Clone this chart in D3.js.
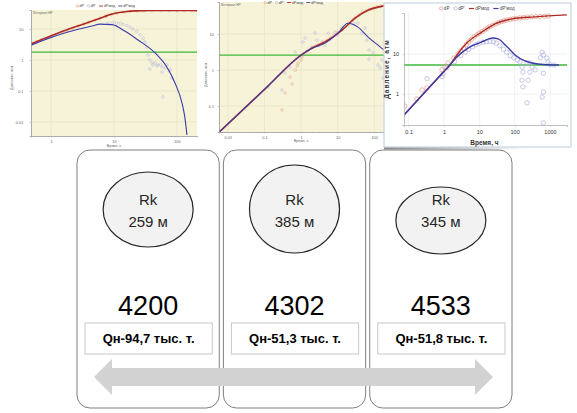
<!DOCTYPE html>
<html>
<head>
<meta charset="utf-8">
<script src="https://cdn.jsdelivr.net/npm/d3@7"></script>
<style>
body { margin: 0; background: #fff; }
svg { display: block; font-family: "Liberation Sans", Arial, sans-serif; }
</style>
</head>
<body>
<svg id="chart" width="577" height="413"></svg>
<script>
// ---- данные: три скважины ----
const wells = ['4200', '4302', '4533'];
const rkRadius = [259, 385, 345];          // Rk, м
const oilProd = ['94,7', '51,3', '51,8'];  // Qн, тыс. т.

const legendLabels = ['dP', "dP'", 'dPмод', "dP'мод"];

// ---- КВД скв. 4200 (время, ч ; давление, атм) ----
const c1RedModel = [[0.48,3.3],[0.8,5.0],[1.3,7.4],[2.5,12],[4.5,18],[7,25],[10.4,32],[15,36],[21.5,38.3],[40,39.3],[100,39.6],[208,39.6]];
const c1BlueModel = [[0.48,3.0],[1.3,6.4],[2.5,9.5],[4.5,12.5],[6,14.3],[9.3,13.8],[15,8.4],[24,4.4],[45,1.68],[69,0.59],[93,0.18],[120,0.041],[133,0.0145],[144,0.0038]];
const c1dP = [[0.5,3.4],[0.6,3.9],[0.7,4.4],[0.85,5.0],[1,5.7],[1.2,6.6],[1.5,7.9],[1.8,9.0],[2.2,10.5],[2.7,12.5],[3.3,14.5],[4,16.5],[5,19.5],[6,22],[7.5,25.5],[9,29],[11,32],[14,35],[18,37.5],[23,38.5],[30,39],[40,39.4],[55,39.6],[75,39.6],[100,39.6],[130,39.6],[170,39.6],[200,39.6]];
const c1dPd = [[1,5.5],[8,15.5],[9.5,16],[11,15.6],[12.5,15],[14,14],[16,13],[18,11.5],[20,10],[23,8.5],[26,6.5],[29,5],[31,3.8],[33,2.6],[34.7,1.45],[37,1.0],[37,0.51],[40,0.8],[41.6,0.69],[45,0.8],[48,0.65],[50,0.69],[55,0.7],[58,0.59],[58,0.41],[60,0.064],[65,0.55],[69,0.69],[75,0.45],[78,0.48],[83,0.26]];
const c1Level = 1.8;

// ---- КВД скв. 4302 ----
const c2RedModel = [[0.0058,0.019],[0.01,0.032],[0.1,0.29],[1,2.6],[2,4.1],[4.5,6.0],[13.2,12.9],[30,27.8],[67,46],[174,60],[270,64]];
const c2BlueModel = [[0.0058,0.019],[0.01,0.032],[0.1,0.29],[1,2.6],[2,4.0],[4.5,5.6],[10.2,10.6],[19,20],[36,15.6],[67,8.3],[127,4.9],[174,3.8],[270,2.8]];
const c2dP = [[0.30,0.078],[0.365,0.23],[0.5,0.64],[0.57,0.41],[0.69,1.0],[0.78,1.29],[0.83,1.56],[1.0,1.9],[1.06,2.3],[1.5,3.3],[2,4.1],[2.5,4.7],[3,5.1],[4,5.7],[5,6.5],[6.5,8],[8,9.5],[10,11],[13,13],[16,16],[20,20],[25,24],[30,28],[38,34],[48,40],[60,44],[75,48],[95,53],[120,57],[150,59],[190,61],[240,63]];
const c2dPd = [[0.125,0.34],[0.30,0.28],[0.365,0.83],[0.5,1.2],[0.69,3.2],[1.13,6.0],[1.29,7.7],[1.99,4.4],[2.4,10.7],[2.7,6.8],[3,4.8],[3.75,6.0],[4.5,5.0],[5.5,10.6],[6,7],[8.5,11.3],[10,9.5],[13.2,14.7],[20,18],[28,19],[36,20],[46,10.6],[56,14.7],[63,6.8],[72,3.6],[72,2.0],[93,3.0],[127,1.38],[145,1.14],[163,1.9],[174,0.6]];
const c2Level = 2.6;

// ---- КВД скв. 4533 ----
const c3RedModel = [[0.074,0.30],[0.3,1.15],[1,3.65],[1.48,5.3],[2.33,9.4],[4.8,20],[11.9,35.5],[28,56],[84,75],[380,84],[3000,94]];
const c3BlueModel = [[0.074,0.30],[0.3,1.15],[1,3.65],[1.48,5.3],[2.33,8.4],[4.8,14],[11.9,20],[24,25],[34,23.7],[61,15],[103,9.4],[196,6.7],[460,5.6],[1400,5.3],[1800,5.3]];
const c3dP = [[0.078,0.50],[0.17,0.75],[0.24,1.26],[0.33,1.41],[0.88,4.0],[1.07,4.7],[1.3,6.0],[1.9,7.9],[2.5,10],[3,12],[3.6,14],[4.3,17],[5,20],[6,23],[7.2,27],[8.6,30],[10,33],[12,36],[14.5,40],[17,44],[20,48],[24,52],[29,56],[35,60],[42,64],[50,67],[60,70],[75,73],[90,75],[110,77],[140,79],[180,81],[230,83],[300,84],[400,85],[520,86],[700,87],[900,88]];
const c3dPd = [[0.33,2.4],[0.88,2.7],[0.94,3.2],[1.2,4.5],[2,6.5],[3,9],[4,11],[5,13],[6.5,15],[8,17],[10,18.5],[13,19.5],[16,20],[20,20.5],[25,20],[30,18.5],[38,16],[48,13],[60,11],[75,9],[95,8],[120,7],[142,6.3],[162,4.7],[172,3.5],[162,2.2],[172,1.5],[224,0.6],[240,2.2],[270,3.5],[310,4.7],[380,4.0],[224,6.0],[270,6.0],[530,8.0],[600,11],[650,9.4],[820,7.9],[880,6.3],[650,3.3],[650,1.12],[600,0.84],[650,0.19],[1000,5.4],[1300,5.3]];
const c3Level = 5.3;

const svg = d3.select('#chart');
svg.append('rect').attr('width', 577).attr('height', 413).attr('fill', '#fff');

// общий рисовальщик лог-лог графика
function drawLogChart(c) {
  const x = d3.scaleLog().domain(c.xDom).range([c.left, c.right]);
  const y = d3.scaleLog().domain(c.yDom).range([c.bottom, c.top]);
  const g = svg.append('g');

  svg.append('clipPath').attr('id', 'clip' + c.id).append('rect')
    .attr('x', c.left).attr('y', c.top)
    .attr('width', c.right - c.left).attr('height', c.bottom - c.top);

  g.append('rect')
    .attr('x', c.left).attr('y', c.top)
    .attr('width', c.right - c.left).attr('height', c.bottom - c.top)
    .attr('fill', c.bg);

  g.append('g').selectAll('line').data(c.xTicks).join('line')
    .attr('x1', d => x(d)).attr('x2', d => x(d))
    .attr('y1', c.top).attr('y2', c.bottom)
    .attr('stroke', c.grid).attr('stroke-width', 0.6);
  g.append('g').selectAll('line').data(c.yTicks).join('line')
    .attr('y1', d => y(d)).attr('y2', d => y(d))
    .attr('x1', c.left).attr('x2', c.right)
    .attr('stroke', c.grid).attr('stroke-width', 0.6);

  const plot = g.append('g').attr('clip-path', `url(#clip${c.id})`);

  plot.append('line')
    .attr('x1', c.left).attr('x2', c.right)
    .attr('y1', y(c.level)).attr('y2', y(c.level))
    .attr('stroke', '#3fb83a').attr('stroke-width', c.lw * 1.1);

  plot.append('g').selectAll('circle').data(c.dPd).join('circle')
    .attr('cx', d => x(d[0])).attr('cy', d => y(d[1])).attr('r', c.pr)
    .attr('fill', 'none').attr('stroke', '#aeb0dc').attr('stroke-width', c.pw);
  plot.append('g').selectAll('circle').data(c.dP).join('circle')
    .attr('cx', d => x(d[0])).attr('cy', d => y(d[1])).attr('r', c.pr)
    .attr('fill', 'none').attr('stroke', '#e39a88').attr('stroke-width', c.pw);

  const line = d3.line().x(d => x(d[0])).y(d => y(d[1])).curve(d3.curveMonotoneX);
  plot.append('path').datum(c.redModel).attr('d', line)
    .attr('fill', 'none').attr('stroke', '#b02a24').attr('stroke-width', c.rlw);
  plot.append('path').datum(c.blueModel).attr('d', line)
    .attr('fill', 'none').attr('stroke', '#3a3aa8').attr('stroke-width', c.lw);

  // оси
  const fmt = d3.format('~g');
  const xa = g.append('g').attr('transform', `translate(0,${c.bottom})`)
    .call(d3.axisBottom(x).tickValues(c.xTicks).tickFormat(fmt).tickSize(c.ts).tickPadding(c.tp));
  const ya = g.append('g').attr('transform', `translate(${c.left},0)`)
    .call(d3.axisLeft(y).tickValues(c.yTicks).tickFormat(fmt).tickSize(c.ts).tickPadding(c.tpy));
  if (c.minor) {
    g.append('g').attr('transform', `translate(0,${c.bottom})`)
      .call(d3.axisBottom(x).tickValues(x.ticks().filter(d => !c.xTicks.includes(d))).tickFormat('').tickSize(c.ts * 0.7))
      .call(a => a.select('.domain').remove())
      .selectAll('line').attr('stroke', c.axis).attr('stroke-width', 0.4);
  }
  [xa, ya].forEach(a => {
    a.attr('font-family', null).attr('font-size', c.fs);
    a.select('.domain').attr('stroke', c.axis).attr('stroke-width', 0.8);
    a.selectAll('.tick line').attr('stroke', c.axis).attr('stroke-width', 0.5);
    a.selectAll('text').attr('fill', c.tickColor);
  });

  // подписи осей
  g.append('text').attr('x', x(c.xTitleAt)).attr('y', c.bottom + c.xTitleDy)
    .attr('text-anchor', 'middle').attr('font-size', c.tfs).attr('font-weight', c.tw)
    .attr('fill', c.tickColor).text('Время, ч');
  g.append('text')
    .attr('transform', `translate(${c.yTitleX},${(c.top + c.bottom) / 2 + c.yTitleDy}) rotate(-90)`)
    .attr('text-anchor', 'middle').attr('font-size', c.tfs).attr('font-weight', c.tw)
    .attr('letter-spacing', c.tls).attr('fill', c.tickColor).text('Давление, атм');

  if (c.interval) {
    g.append('text').attr('x', c.left + 2).attr('y', c.top + 4)
      .attr('font-size', 3.2).attr('fill', '#666').text('Интервал НР');
  }

  legend(c.legendX, c.legendY, c.lfs);
}

function legend(cx, cy, fs) {
  const g = svg.append('g').attr('font-size', fs).attr('fill', '#444');
  const colors = ['#e39a88', '#aeb0dc', '#b02a24', '#3a3aa8'];
  let pos = 0;
  legendLabels.forEach((lab, i) => {
    if (i < 2) {
      g.append('circle').attr('cx', pos + fs * 0.4).attr('cy', cy)
        .attr('r', fs * 0.35).attr('fill', 'none')
        .attr('stroke', colors[i]).attr('stroke-width', fs * 0.16);
      pos += fs * 1.0;
    } else {
      g.append('line').attr('x1', pos).attr('x2', pos + fs * 1.1)
        .attr('y1', cy).attr('y2', cy)
        .attr('stroke', colors[i]).attr('stroke-width', fs * 0.25);
      pos += fs * 1.4;
    }
    const t = g.append('text').attr('x', pos).attr('y', cy + fs * 0.35).text(lab);
    pos += t.node().getComputedTextLength() + fs * 0.9;
  });
  g.attr('transform', `translate(${cx - pos / 2},0)`);
}

// график 1
drawLogChart({
  id: 1, left: 31, right: 197, top: 10, bottom: 136,
  xDom: [0.48, 208], yDom: [0.0035, 41],
  xTicks: [1, 10, 100], yTicks: [0.01, 0.1, 1, 10],
  bg: '#f6f3d8', grid: '#e4dfc2', axis: '#9a9a9a', tickColor: '#666',
  redModel: c1RedModel, blueModel: c1BlueModel, dP: c1dP, dPd: c1dPd, level: c1Level,
  lw: 1.1, rlw: 1.6, pr: 1.3, pw: 0.5, ts: 1.5, tp: 2.5, tpy: 6, fs: 4, minor: true,
  xTitleAt: 10, xTitleDy: 11, yTitleX: 13, yTitleDy: 5, tfs: 3.5, tw: 'normal', tls: 0,
  interval: true, legendX: 107, legendY: 6, lfs: 3.6
});

// график 2
drawLogChart({
  id: 2, left: 219, right: 390, top: 2, bottom: 132,
  xDom: [0.0057, 270], yDom: [0.019, 77.6],
  xTicks: [0.01, 0.1, 1, 10, 100], yTicks: [0.1, 1, 10],
  bg: '#f6f3d8', grid: '#e4dfc2', axis: '#9a9a9a', tickColor: '#666',
  redModel: c2RedModel, blueModel: c2BlueModel, dP: c2dP, dPd: c2dPd, level: c2Level,
  lw: 1.1, rlw: 1.6, pr: 1.3, pw: 0.5, ts: 1.5, tp: 2.5, tpy: 3.5, fs: 4, minor: true,
  xTitleAt: 1, xTitleDy: 10, yTitleX: 207, yTitleDy: 8, tfs: 3.5, tw: 'normal', tls: 0,
  interval: true, legendX: 295, legendY: 2.5, lfs: 3.6
});

// рамка графика 3
svg.append('rect').attr('x', 384).attr('y', 3).attr('width', 187).attr('height', 144)
  .attr('fill', '#fff').attr('stroke', '#c6d4e2').attr('stroke-width', 1.2);
const shade = svg.append('defs').append('linearGradient').attr('id', 'shade');
shade.append('stop').attr('offset', 0).attr('stop-color', '#8a8a8a');
shade.append('stop').attr('offset', 1).attr('stop-color', '#8a8a8a').attr('stop-opacity', 0);
svg.append('rect').attr('x', 384).attr('y', 147.5).attr('width', 140).attr('height', 2)
  .attr('fill', 'url(#shade)');

// график 3
drawLogChart({
  id: 3, left: 404, right: 567, top: 13, bottom: 125,
  xDom: [0.074, 3030], yDom: [0.168, 105],
  xTicks: [0.1, 1, 10, 100, 1000], yTicks: [1, 10],
  bg: '#ffffff', grid: '#e8e8e8', axis: '#b0b0b0', tickColor: '#333',
  redModel: c3RedModel, blueModel: c3BlueModel, dP: c3dP, dPd: c3dPd, level: c3Level,
  lw: 1.4, rlw: 1.4, pr: 2.2, pw: 0.7, ts: 2, tp: 3, tpy: 3, fs: 5.5, minor: false,
  xTitleAt: 14, xTitleDy: 20, yTitleX: 389, yTitleDy: 0, tfs: 6.5, tw: 'bold', tls: 1,
  interval: false, legendX: 479, legendY: 8.5, lfs: 4.6
});

// ---- нижняя часть: карточки скважин ----
const band = d3.scaleBand().domain(wells).range([77, 512]).paddingInner(0.028);
const circleShape = [{ cy: 209.5, ry: 37.5 }, { cy: 209, ry: 44 }, { cy: 220.5, ry: 33.5 }];

const cards = svg.append('g').selectAll('g').data(wells).join('g');

cards.append('rect')
  .attr('x', d => band(d)).attr('y', 150)
  .attr('width', band.bandwidth()).attr('height', 258).attr('rx', 13)
  .attr('fill', '#fff').attr('stroke', '#7f7f7f').attr('stroke-width', 1);

cards.append('ellipse')
  .attr('cx', d => band(d) + band.bandwidth() / 2)
  .attr('cy', (d, i) => circleShape[i].cy)
  .attr('rx', 45).attr('ry', (d, i) => circleShape[i].ry)
  .attr('fill', '#f2f2f2').attr('stroke', '#262626').attr('stroke-width', 1.2);

cards.append('text')
  .attr('x', d => band(d) + band.bandwidth() / 2).attr('y', 204.5)
  .attr('text-anchor', 'middle').attr('font-size', 15).attr('fill', '#262626')
  .text('Rk');
cards.append('text')
  .attr('x', d => band(d) + band.bandwidth() / 2).attr('y', 226.5)
  .attr('text-anchor', 'middle').attr('font-size', 15).attr('fill', '#262626')
  .text((d, i) => rkRadius[i] + ' м');

cards.append('text')
  .attr('x', d => band(d) + band.bandwidth() / 2).attr('y', 314.5)
  .attr('text-anchor', 'middle').attr('font-size', 27).attr('fill', '#000')
  .text(d => d);

cards.append('rect')
  .attr('x', d => band(d) + 8).attr('y', 323)
  .attr('width', band.bandwidth() - 15).attr('height', 31)
  .attr('fill', '#fff').attr('stroke', '#c8c8c8').attr('stroke-width', 1);
cards.append('text')
  .attr('x', d => band(d) + 8 + (band.bandwidth() - 15) / 2).attr('y', 342.8)
  .attr('text-anchor', 'middle').attr('font-size', 13).attr('font-weight', 'bold')
  .attr('fill', '#000')
  .text((d, i) => 'Qн-' + oilProd[i] + ' тыс. т.');

// двусторонняя стрелка
const arrowPts = [[94,377],[112,359],[112,368],[475,368],[475,359],[493,377],[475,395],[475,386],[112,386],[112,395]];
svg.append('path')
  .attr('d', d3.line()(arrowPts) + 'Z')
  .attr('fill', '#d2d2d2');
</script>
</body>
</html>
